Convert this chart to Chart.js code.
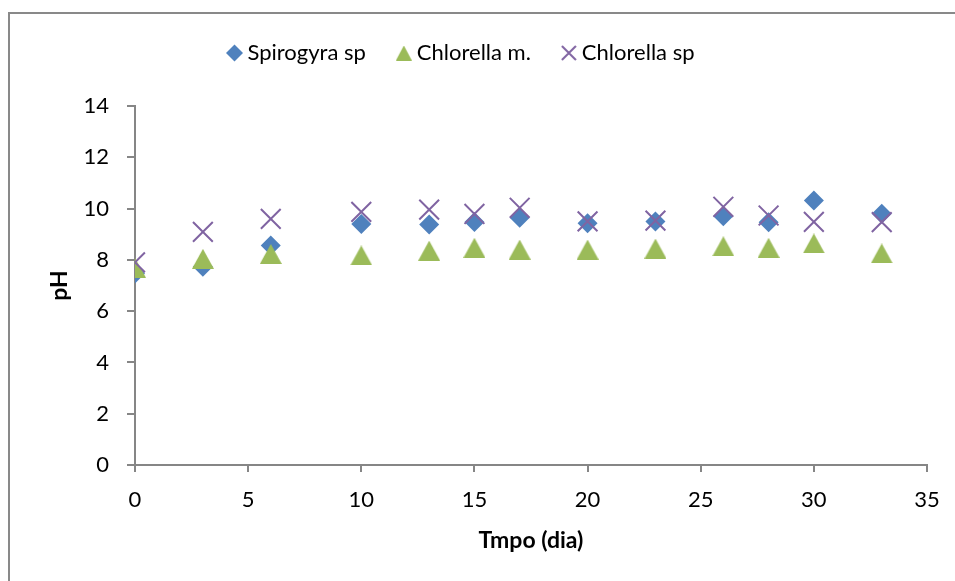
<!DOCTYPE html>
<html>
<head>
<meta charset="utf-8">
<script src="https://cdn.jsdelivr.net/npm/chart.js@4/dist/chart.umd.min.js"></script>
<style>
  html, body { margin: 0; padding: 0; background: #fff; }
  #wrap { width: 955px; height: 581px; position: relative; }
</style>
</head>
<body>
<div id="wrap"><canvas id="phChart"></canvas></div>
<script>
// dias de cultivo e pH medido
const dias = [0, 3, 6, 10, 13, 15, 17, 20, 23, 26, 28, 30, 33];
const spirogyra = [7.47, 7.73, 8.56, 9.40, 9.38, 9.48, 9.64, 9.43, 9.50, 9.70, 9.47, 10.31, 9.80];
const chlorellaM = [7.69, 8.04, 8.23, 8.17, 8.36, 8.47, 8.40, 8.40, 8.44, 8.53, 8.47, 8.64, 8.25];
const chlorellaSp = [7.90, 9.09, 9.60, 9.87, 9.96, 9.79, 10.03, 9.50, 9.53, 10.07, 9.73, 9.48, 9.47];
const xTicks = [0, 5, 10, 15, 20, 25, 30, 35];
const yTicks = [0, 2, 4, 6, 8, 10, 12, 14];

const AZUL = '#4F81BD', VERDE = '#9BBB59', ROXO = '#8064A2', EIXO = '#868686';

function pontos(ys) {
    return dias.map((d, i) => ({ x: d, y: ys[i] }));
}

// triangulo centrado na caixa (o 'triangle' do Chart.js fica centrado no baricentro)
function triangulo(w, h, cor) {
    const c = document.createElement('canvas');
    c.width = w; c.height = h;
    const g = c.getContext('2d');
    g.fillStyle = cor;
    g.beginPath();
    g.moveTo(w / 2, 0);
    g.lineTo(w, h);
    g.lineTo(0, h);
    g.closePath();
    g.fill();
    return c;
}

function xis(s, cor) {
    const c = document.createElement('canvas');
    c.width = s; c.height = s;
    const g = c.getContext('2d');
    g.strokeStyle = cor;
    g.lineWidth = 2;
    g.beginPath();
    g.moveTo(1, 1); g.lineTo(s - 1, s - 1);
    g.moveTo(s - 1, 1); g.lineTo(1, s - 1);
    g.stroke();
    return c;
}

const triGrande = triangulo(22, 20, VERDE);
const triPequeno = triangulo(16, 15, VERDE);
const xisPequeno = xis(16, ROXO);
const marcaLegenda = [null, triPequeno, xisPequeno];

// moldura cinza e fundo branco
const moldura = {
    id: 'moldura',
    beforeDraw(chart) {
        const ctx = chart.ctx;
        ctx.save();
        ctx.fillStyle = '#fff';
        ctx.fillRect(0, 0, chart.width, chart.height);
        ctx.fillStyle = '#898989';
        ctx.fillRect(8, 12, 2, chart.height);
        ctx.fillRect(8, 12, chart.width, 2);
        ctx.restore();
    }
};

Chart.defaults.font.family = 'Lato, "Open Sans", sans-serif';
Chart.defaults.color = '#000';

new Chart(document.getElementById('phChart'), {
    type: 'scatter',
    data: {
        datasets: [
            {
                label: 'Spirogyra sp',
                data: pontos(spirogyra),
                pointStyle: 'rectRot',
                pointRadius: 10,
                pointHoverRadius: 10,
                backgroundColor: AZUL,
                borderColor: AZUL,
                borderWidth: 0,
                order: 3
            },
            {
                label: 'Chlorella m.',
                data: pontos(chlorellaM),
                pointStyle: triGrande,
                backgroundColor: VERDE,
                borderColor: VERDE,
                order: 2
            },
            {
                label: 'Chlorella sp',
                data: pontos(chlorellaSp),
                pointStyle: 'crossRot',
                pointRadius: 14,
                pointHoverRadius: 14,
                backgroundColor: ROXO,
                borderColor: ROXO,
                borderWidth: 2,
                order: 1
            }
        ]
    },
    options: {
        responsive: true,
        maintainAspectRatio: false,
        animation: false,
        layout: { padding: { left: 0, right: 28, top: 6, bottom: 0 } },
        plugins: {
            tooltip: { enabled: false },
            // titulo vazio usado so como espaco entre a legenda e o grafico
            title: {
                display: true,
                text: '',
                weight: 500,
                padding: 0,
                font: { size: 12, lineHeight: '32px' }
            },
            legend: {
                position: 'top',
                labels: {
                    usePointStyle: true,
                    boxWidth: 4,
                    boxHeight: 12,
                    padding: 36,
                    font: { size: 22 },
                    sort: (a, b) => a.datasetIndex - b.datasetIndex,
                    generateLabels(chart) {
                        const itens = Chart.defaults.plugins.legend.labels.generateLabels(chart);
                        itens.forEach(it => {
                            const m = marcaLegenda[it.datasetIndex];
                            if (m) it.pointStyle = m;
                        });
                        return itens;
                    }
                }
            }
        },
        scales: {
            x: {
                type: 'linear',
                min: 0,
                max: 35,
                afterBuildTicks(scale) { scale.ticks = xTicks.map(v => ({ value: v })); },
                afterFit(scale) { scale.height = 116; },
                ticks: { font: { size: 22 }, padding: 15, maxRotation: 0 },
                grid: { drawOnChartArea: false, drawTicks: true, tickLength: 7, color: EIXO, lineWidth: 2 },
                border: { display: true, color: EIXO, width: 2 },
                title: {
                    display: true,
                    text: 'Tmpo (dia)',
                    font: { size: 23, weight: 'bold' },
                    padding: { top: 0, bottom: 27 }
                }
            },
            y: {
                min: 0,
                max: 14,
                afterBuildTicks(scale) { scale.ticks = yTicks.map(v => ({ value: v })); },
                afterFit(scale) { scale.width = 135; },
                ticks: { font: { size: 22 }, padding: 18 },
                grid: { drawOnChartArea: false, drawTicks: true, tickLength: 8, color: EIXO, lineWidth: 2 },
                border: { display: true, color: EIXO, width: 2 },
                title: {
                    display: true,
                    text: 'pH',
                    font: { size: 23, weight: 'bold' },
                    padding: { top: 46, bottom: 0 }
                }
            }
        }
    },
    plugins: [moldura]
});
</script>
</body>
</html>
